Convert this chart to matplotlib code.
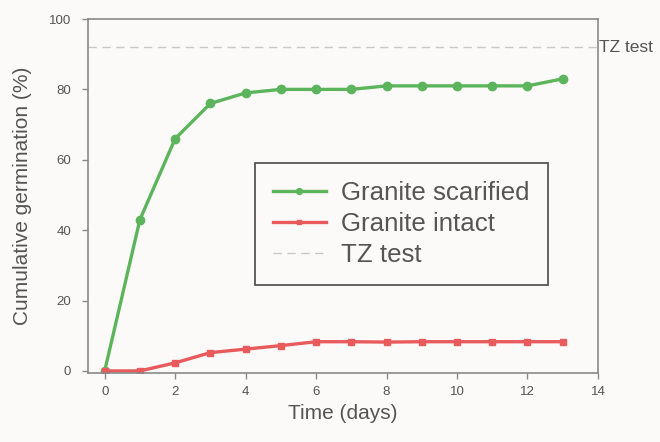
import matplotlib.pyplot as plt
from matplotlib.transforms import blended_transform_factory

plt.rcParams['font.family'] = ['Liberation Sans', 'DejaVu Sans']

# Germination counts per day
days = [0, 1, 2, 3, 4, 5, 6, 7, 8, 9, 10, 11, 12, 13]
scarified = [0, 43, 66, 76, 79, 80, 80, 80, 81, 81, 81, 81, 81, 83]
intact = [0, 0, 2.3, 5.2, 6.2, 7.2, 8.3, 8.3, 8.2, 8.3, 8.3, 8.3, 8.3, 8.3]
tz_value = 92

bg = "#fcfaf8"
text_col = "#555555"
axis_col = "#8a8a8a"

fig = plt.figure(figsize=(6.6, 4.42), dpi=100, facecolor=bg)
ax = fig.add_axes([0.133, 0.156, 0.773, 0.801], facecolor=bg)

# Curves
ax.plot(days, scarified, color="#5cb55c", lw=2.4, marker="o", ms=6,
        label="Granite scarified")
ax.plot(days, intact, color="#e85a5c", lw=2.4, marker="s", ms=5,
        label="Granite intact")
ax.axhline(tz_value, color="#c8c8c8", lw=1, ls=(0, (6, 4)), label="TZ test")

# Label for the reference line, just outside the right spine
trans = blended_transform_factory(ax.transAxes, ax.transData)
ax.text(1.003, tz_value, "TZ test", transform=trans, ha="left", va="center",
        fontsize=12.5, color=text_col)

ax.set_xlim(-0.48, 14)
ax.set_ylim(-0.6, 100)
ax.set_xticks(range(0, 15, 2))
ax.set_yticks(range(0, 101, 20))

ax.set_xlabel("Time (days)", fontsize=15, color=text_col, labelpad=5)
ax.set_ylabel("Cumulative germination (%)", fontsize=15, color=text_col, labelpad=12)

for side in ax.spines.values():
    side.set_color(axis_col)
    side.set_linewidth(1.2)
ax.tick_params(direction="out", length=4, width=1, colors=axis_col,
               labelcolor=text_col, labelsize=9.5, pad=8)
ax.tick_params(axis="x", pad=5)

leg = ax.legend(loc="upper left", bbox_to_anchor=(0.327, 0.593), fontsize=18.6,
                frameon=True, fancybox=False, framealpha=1, handlelength=2.05,
                handletextpad=0.6, borderpad=0.7, labelspacing=0.26,
                borderaxespad=0, markerscale=0.7)
leg.get_frame().set_edgecolor("#555555")
leg.get_frame().set_linewidth(1.3)
leg.get_frame().set_facecolor(bg)
for t in leg.get_texts():
    t.set_color(text_col)

fig.savefig("out.png", dpi=100, facecolor=bg)
